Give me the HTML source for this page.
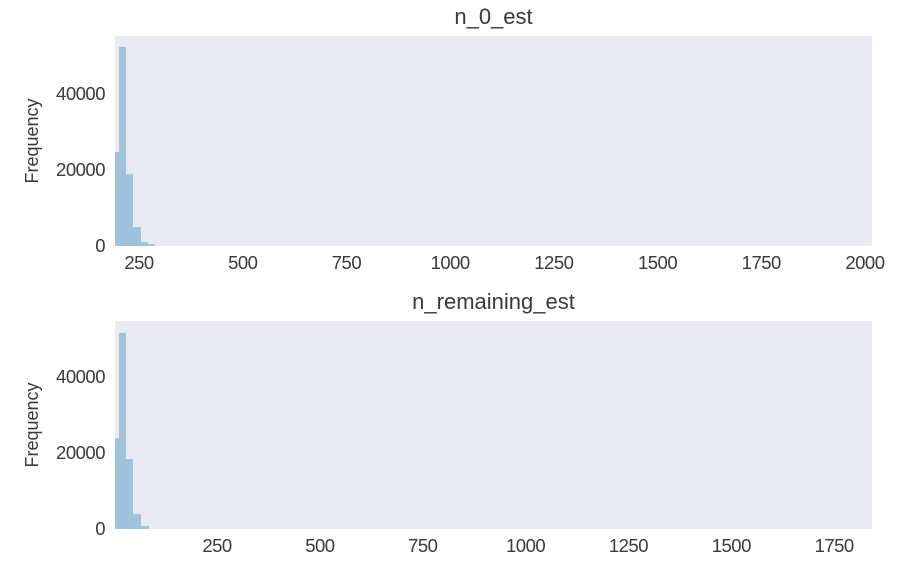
<!DOCTYPE html>
<html><head><meta charset="utf-8"><style>
body{margin:0;background:#fff;}
svg text{font-family:"Liberation Sans",sans-serif;fill:#3a3a3a;}
</style></head><body>
<svg id="c" width="898" height="576"></svg>
<script>
const topEdges=[192,201.6,218.5,235.4,254.7,271.6,288.4];
const topCounts=[24700,52400,18900,5000,1000,500];
const topTicks=[250,500,750,1000,1250,1500,1750,2000];
const botEdges=[2,11.7,28.7,45.8,65.2,84.7];
const botCounts=[23900,51600,18400,3900,800];
const botTicks=[250,500,750,1000,1250,1500,1750];
const yTicks=[0,20000,40000];
const svg=document.getElementById('c');
const NS='http://www.w3.org/2000/svg';
function mk(t,a){const e=document.createElementNS(NS,t);for(const k in a)e.setAttribute(k,a[k]);svg.appendChild(e);return e;}
function panel(p){
  const sx=v=>p.L+(v-p.x0)*(p.R-p.L)/(p.x1-p.x0);
  const sy=v=>p.B-v*p.ky;
  const bg=mk('rect',{x:p.L,y:p.T,width:p.R-p.L,height:p.B-p.T,fill:'#eaeaf2'});
  
  
  p.counts.forEach((c,i)=>{
    const x=sx(p.edges[i]),w=sx(p.edges[i+1])-x;
    const r=mk('rect',{x:x,y:sy(c),width:w,height:p.B-sy(c),fill:'#9fc3dd'});
    
    
  });
  p.ticks.forEach(t=>{
    const tx=mk('text',{x:sx(t),y:p.B+23,'font-size':18.5,'text-anchor':'middle','letter-spacing':'-0.5'});
    tx.textContent=t;
    
    
  });
  yTicks.forEach(t=>{
    const tx=mk('text',{x:105,y:sy(t)+6,'font-size':18.5,'text-anchor':'end','letter-spacing':'-0.5'});
    tx.textContent=t;
    
    
  });
  const ti=mk('text',{x:(p.L+p.R)/2,y:p.T-12,'font-size':22,'text-anchor':'middle'});
  ti.textContent=p.title;
  
  
  const yl=mk('text',{x:0,y:0,'font-size':18,'text-anchor':'middle',transform:`translate(38,${(p.T+p.B)/2}) rotate(-90)`});
  yl.textContent='Frequency';
  
  
}
panel({name:'n-0-est',title:'n_0_est',L:115,R:872,T:36,B:246,x0:192,x1:2017,ky:0.0038,edges:topEdges,counts:topCounts,ticks:topTicks});
panel({name:'n-remaining-est',title:'n_remaining_est',L:115,R:872,T:321,B:529,x0:2,x1:1842,ky:0.0038,edges:botEdges,counts:botCounts,ticks:botTicks});
</script>
</body></html>
